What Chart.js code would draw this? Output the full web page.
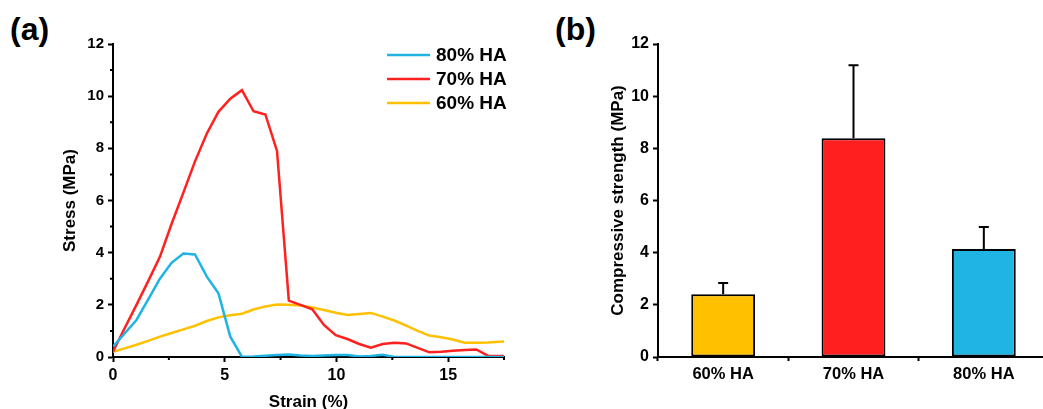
<!DOCTYPE html>
<html>
<head>
<meta charset="utf-8">
<script src="https://cdn.jsdelivr.net/npm/chart.js@4.4.0/dist/chart.umd.min.js"></script>
<style>
html, body { margin: 0; padding: 0; background: #fff; overflow: hidden; width: 1043px; height: 409px; }
.panel { position: absolute; top: 0; height: 409px; }
#left { left: 0; width: 540px; }
#right { left: 560px; width: 489px; }
.tag { position: absolute; font: bold 32px "Liberation Sans", Arial, sans-serif; line-height: 1; color: #000; }
</style>
</head>
<body>
<div class="tag" style="left:10px;top:13px">(a)</div>
<div class="tag" style="left:555px;top:13px">(b)</div>
<div class="panel" id="left"><canvas id="stressChart"></canvas></div>
<div class="panel" id="right"><canvas id="strengthChart"></canvas></div>
<script>
// Stress-strain curves (a)
const strain = [0, 0.52, 1.05, 1.57, 2.1, 2.62, 3.15, 3.67, 4.2, 4.72, 5.25, 5.77, 6.29, 6.82, 7.34, 7.87, 8.39, 8.92, 9.44, 9.97,
                10.49, 11.02, 11.54, 12.07, 12.59, 13.12, 13.64, 14.16, 14.69, 15.21, 15.74, 16.26, 16.79, 17.31, 17.5];
const stress80 = [0.4, 0.9, 1.42, 2.2, 3.0, 3.61, 3.97, 3.93, 3.08, 2.44, 0.78, 0.01, 0.02, 0.05, 0.08, 0.1, 0.06, 0.04, 0.06, 0.08,
                  0.08, 0.02, 0.04, 0.09, 0, 0, 0, 0, 0, 0, 0, 0, 0, 0, 0];
const stress70 = [0.2, 1.1, 2.0, 2.9, 3.84, 5.1, 6.3, 7.5, 8.57, 9.4, 9.9, 10.23, 9.42, 9.3, 7.9, 2.16, 2.0, 1.83, 1.23, 0.84,
                  0.69, 0.5, 0.36, 0.5, 0.55, 0.52, 0.35, 0.18, 0.2, 0.24, 0.27, 0.29, 0.04, 0.04, 0.04];
const stress60 = [0.2, 0.33, 0.47, 0.62, 0.78, 0.92, 1.06, 1.2, 1.38, 1.52, 1.6, 1.66, 1.82, 1.94, 2.01, 2.0, 1.97, 1.9, 1.8, 1.7,
                  1.61, 1.65, 1.69, 1.55, 1.4, 1.2, 1.0, 0.82, 0.76, 0.67, 0.55, 0.55, 0.56, 0.58, 0.59];
const strainMinorTicks = [2.5, 7.5, 12.5, 17.5];
const stressMinorTicks = [1, 3, 5, 7, 9, 11];

// Compressive strength (b)
const groups = ['60% HA', '70% HA', '80% HA'];
const strength = [2.41, 8.39, 4.14];
const strengthErr = [0.43, 2.8, 0.84];

const BLUE = '#1fb4e4', RED = '#ff2020', YELLOW = '#ffc000';

Chart.defaults.font.family = '"Liberation Sans", Arial, sans-serif';
Chart.defaults.font.weight = 'bold';
Chart.defaults.color = '#000';
Chart.defaults.animation = false;

const toPoints = ys => strain.map((x, i) => ({ x: x, y: ys[i] }));

// short ticks between the labelled ones
const minorTicks = {
    id: 'minorTicks',
    afterDraw(chart) {
        const { ctx, scales: { x, y } } = chart;
        ctx.save();
        ctx.strokeStyle = '#000';
        ctx.lineWidth = 2;
        ctx.beginPath();
        strainMinorTicks.forEach(v => {
            const px = x.getPixelForValue(v);
            ctx.moveTo(px, y.bottom);
            ctx.lineTo(px, y.bottom + 3);
        });
        stressMinorTicks.forEach(v => {
            const py = y.getPixelForValue(v);
            ctx.moveTo(x.left, py);
            ctx.lineTo(x.left - 3, py);
        });
        ctx.stroke();
        ctx.restore();
    }
};

// legend inside the plot, top right
const lineLegend = {
    id: 'lineLegend',
    afterDraw(chart) {
        const ctx = chart.ctx;
        const x0 = chart.chartArea.right - 117;
        ctx.save();
        ctx.font = 'bold 19px "Liberation Sans", Arial, sans-serif';
        ctx.textBaseline = 'middle';
        chart.data.datasets.forEach((ds, i) => {
            const yy = 55 + i * 24;
            ctx.strokeStyle = ds.borderColor;
            ctx.lineWidth = 2.5;
            ctx.beginPath();
            ctx.moveTo(x0, yy);
            ctx.lineTo(x0 + 43, yy);
            ctx.stroke();
            ctx.fillStyle = '#000';
            ctx.fillText(ds.label, x0 + 49, yy + 1);
        });
        ctx.restore();
    }
};

new Chart(document.getElementById('stressChart'), {
    type: 'line',
    data: {
        datasets: [
            { label: '80% HA', data: toPoints(stress80), borderColor: BLUE },
            { label: '70% HA', data: toPoints(stress70), borderColor: RED },
            { label: '60% HA', data: toPoints(stress60), borderColor: YELLOW }
        ]
    },
    options: {
        responsive: true,
        maintainAspectRatio: false,
        layout: { padding: { top: 44, right: 36, left: 0, bottom: 0 } },
        elements: { point: { radius: 0 }, line: { borderWidth: 2.5, tension: 0 } },
        plugins: { legend: { display: false }, tooltip: { enabled: false } },
        scales: {
            x: {
                type: 'linear',
                min: 0, max: 17.5,
                afterFit: s => { s.height = 52; },
                ticks: { stepSize: 5, includeBounds: false, padding: 4, font: { size: 16 } },
                grid: { drawOnChartArea: false, tickLength: 5, tickWidth: 2, tickColor: '#000' },
                border: { color: '#000', width: 2 },
                title: { display: true, text: 'Strain (%)', font: { size: 17 }, padding: { top: 0, bottom: -4 } }
            },
            y: {
                min: 0, max: 12,
                afterFit: s => { s.width = 113; },
                ticks: { stepSize: 2, padding: 4, font: { size: 15 } },
                grid: { drawOnChartArea: false, tickLength: 5, tickWidth: 2, tickColor: '#000' },
                border: { color: '#000', width: 2 },
                title: { display: true, text: 'Stress (MPa)', font: { size: 17 }, padding: { top: 60, bottom: 0 } }
            }
        }
    },
    plugins: [minorTicks, lineLegend]
});

// upward error bars with caps
const errorBars = {
    id: 'errorBars',
    afterDatasetsDraw(chart) {
        const { ctx, scales: { y } } = chart;
        const meta = chart.getDatasetMeta(0);
        ctx.save();
        ctx.strokeStyle = '#000';
        ctx.lineWidth = 2;
        meta.data.forEach((bar, i) => {
            const top = y.getPixelForValue(strength[i] + strengthErr[i]);
            ctx.beginPath();
            ctx.moveTo(bar.x, bar.y);
            ctx.lineTo(bar.x, top);
            ctx.moveTo(bar.x - 5, top);
            ctx.lineTo(bar.x + 5, top);
            ctx.stroke();
        });
        ctx.restore();
    }
};

new Chart(document.getElementById('strengthChart'), {
    type: 'bar',
    data: {
        labels: groups,
        datasets: [{
            data: strength,
            backgroundColor: [YELLOW, '#ff1f1f', BLUE],
            borderColor: '#000',
            borderWidth: 2,
            borderSkipped: false,
            barPercentage: 0.49,
            categoryPercentage: 1
        }]
    },
    options: {
        responsive: true,
        maintainAspectRatio: false,
        layout: { padding: { top: 44, right: 0, left: 0, bottom: 0 } },
        plugins: { legend: { display: false }, tooltip: { enabled: false } },
        scales: {
            x: {
                afterFit: s => { s.height = 52; },
                ticks: { padding: 4, font: { size: 16.5 } },
                grid: { offset: true, drawOnChartArea: false, tickLength: 4, tickWidth: 2, tickColor: '#000' },
                border: { color: '#000', width: 2 }
            },
            y: {
                min: 0, max: 12,
                afterFit: s => { s.width = 98; },
                ticks: { stepSize: 2, padding: 4, font: { size: 16 } },
                grid: { drawOnChartArea: false, tickLength: 5, tickWidth: 2, tickColor: '#000' },
                border: { color: '#000', width: 2 },
                title: { display: true, text: 'Compressive strength (MPa)', font: { size: 17 }, padding: { top: 48, bottom: 0 } }
            }
        }
    },
    plugins: [errorBars]
});
</script>
</body>
</html>
